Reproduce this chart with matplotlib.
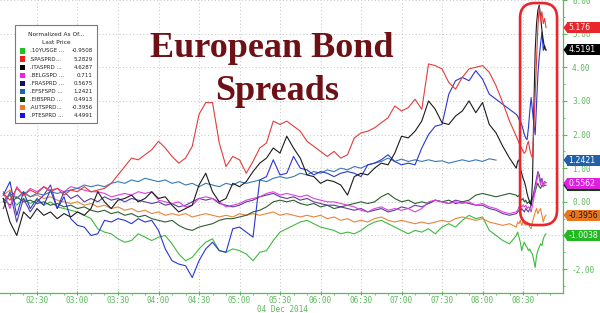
import numpy as np
import matplotlib
matplotlib.use("Agg")
import matplotlib.pyplot as plt
from matplotlib.patches import FancyBboxPatch, Rectangle, Polygon
from matplotlib.transforms import IdentityTransform

plt.rcParams['axes.unicode_minus'] = False

# ---------------- data ----------------
# minutes after midnight, 04 Dec 2014
t_main = np.arange(125, 506, 5)     # 02:05 .. 08:25 every 5 min
t_fine = np.arange(506, 528)        # 08:26 .. 08:47 every minute

spa_main = [0.25, 0.05, 0.4, 0.2, 0.35, 0.25, 0.45, 0.3, 0.4, 0.2,
            0.35, 0.3, 0.45, 0.3, 0.35, 0.4, 0.55, 0.8, 1.05, 1.3,
            1.25, 1.4, 1.55, 1.8, 1.6, 1.35, 1.15, 1.3, 1.65, 2.6,
            2.95, 2.95, 1.75, 1.05, 1.35, 1.25, 0.85, 1.2, 1.6, 1.75,
            2.4, 2.3, 2.4, 2.25, 2.1, 1.8, 1.65, 1.5, 1.35, 1.5,
            1.3, 1.4, 1.9, 2.05, 2.1, 2.2, 2.35, 2.5, 2.85, 2.7,
            2.8, 3.05, 2.75, 4.1, 4.05, 3.95, 3.55, 3.35, 3.7, 3.95,
            4.0, 4.05, 3.85, 3.45, 2.95, 2.4, 1.95]
spa_fine = [1.85, 1.75, 1.65, 1.6, 1.5, 1.45, 1.5, 1.7, 1.8, 1.55, 1.4,
            1.3, 2.2, 3.2, 4.2, 5.2, 5.8, 5.4, 5.65, 5.3, 5.45, 5.18]

ita_main = [0.1, -0.6, -1.0, -0.3, -0.5, -0.2, -0.4, -0.3, -0.5, -0.35,
            -0.45, -0.3, -0.4, -0.2, 0.3, 0.0, -0.2, 0.05, 0.1, 0.2,
            0.0, 0.1, 0.3, 0.1, 0.15, -0.1, -0.3, -0.2, -0.1, 0.5,
            0.85, 0.3, 0.0, 0.1, 0.55, 0.45, 0.6, 0.9, 1.15, 1.3,
            1.6, 1.45, 1.95, 1.6, 1.3, 0.8, 0.75, 0.55, 0.65, 0.6,
            0.5, 0.2, 0.75, 0.85, 0.8, 1.0, 1.15, 1.1, 1.45, 1.95,
            1.9, 2.1, 2.4, 3.0, 2.75, 2.35, 2.3, 2.55, 2.7, 3.0,
            2.65, 2.95, 2.3, 2.05, 1.65, 1.3, 1.0]
ita_fine = [1.2, 1.25, 1.0, 0.85, 0.7, 0.6, 0.45, 0.25, 0.1, 0.0, -0.1,
            0.6, 2.8, 4.5, 5.3, 5.7, 5.85, 5.5, 5.1, 4.8, 4.55, 4.52]

pte_main = [0.2, 0.6, -0.4, 0.3, -0.2, 0.1, -0.1, 0.35, -0.2, 0.15,
            -0.5, -0.7, -0.75, -1.0, -0.95, -0.55, -0.6, -0.5, -0.55, -0.65,
            -0.5, -0.6, -0.55, -0.85, -1.4, -1.75, -1.85, -1.9, -2.25, -1.75,
            -1.4, -1.2, -1.45, -1.5, -0.8, -0.75, -0.9, -1.05, 0.65, 0.75,
            1.25, 0.8, 0.85, 1.35, 1.0, 0.95, 0.8, 0.9, 0.85, 0.75,
            0.85, 0.9, 0.85, 0.75, 1.1, 1.15, 1.25, 1.4, 1.2, 1.1,
            1.15, 1.1, 1.6, 2.0, 2.25, 2.3, 3.2, 3.6, 3.7, 3.6,
            3.9, 3.65, 3.2, 3.05, 2.9, 2.75, 2.6]
pte_fine = [2.55, 2.45, 2.4, 2.3, 2.15, 2.0, 1.9, 1.85, 2.2, 2.7, 3.1,
            2.7, 2.3, 2.0, 2.9, 3.8, 4.3, 4.7, 5.05, 4.5, 4.65, 4.5]

efsf_main = [0.0, 0.25, 0.1, 0.3, 0.15, 0.25, 0.2, 0.3, 0.25, 0.3,
             0.35, 0.4, 0.5, 0.45, 0.5, 0.45, 0.55, 0.6, 0.55, 0.65,
             0.6, 0.7, 0.65, 0.6, 0.65, 0.55, 0.6, 0.5, 0.55, 0.45,
             0.55, 0.5, 0.45, 0.55, 0.5, 0.6, 0.55, 0.6, 0.65, 0.6,
             0.7, 0.75, 0.7, 0.75, 0.85, 0.8, 0.9, 0.85, 0.95, 0.9,
             1.0, 0.95, 1.05, 1.0, 1.1, 1.15, 1.2, 1.3, 1.2, 1.27,
             1.2, 1.25, 1.2, 1.25, 1.2, 1.22, 1.15, 1.2, 1.25, 1.2,
             1.25, 1.2, 1.28, 1.24, np.nan, np.nan, np.nan]
efsf_fine = [np.nan] * 22

bel_main = [0.3, -0.2, 0.45, 0.2, 0.4, 0.3, 0.45, 0.35, 0.4, 0.3,
            0.45, 0.4, 0.35, 0.3, 0.3, 0.25, 0.15, 0.2, 0.25, 0.2,
            0.3, 0.25, 0.3, 0.05, 0.0, -0.05, 0.0, -0.15, -0.1, 0.1,
            0.15, 0.1, 0.0, -0.15, -0.1, -0.05, 0.05, 0.1, 0.15, 0.25,
            0.3, 0.2, 0.25, 0.2, 0.15, 0.2, 0.1, 0.05, 0.0, 0.0,
            -0.05, -0.1, -0.15, -0.25, -0.3, -0.2, -0.15, -0.25, -0.2, -0.25,
            -0.2, -0.3, -0.2, 0.0, 0.05, 0.0, -0.05, 0.0, -0.05, 0.0,
            -0.1, -0.05, -0.15, -0.2, -0.3, -0.35, -0.3]
bel_fine = [-0.25, -0.15, -0.1, -0.15, -0.1, -0.15, -0.1, -0.2, -0.15, -0.2, -0.3,
            -0.1, 0.1, 0.35, 0.55, 0.85, 0.7, 0.5, 0.65, 0.45, 0.6, 0.56]

fra_main = [-0.2, 0.3, -0.6, 0.1, -0.3, 0.0, 0.2, 0.5, -0.2, 0.3,
            0.1, 0.2, 0.0, 0.1, 0.0, 0.15, 0.05, 0.1, 0.0, 0.1,
            0.05, 0.0, -0.05, 0.0, -0.1, -0.05, -0.15, -0.1, 0.0, 0.1,
            0.05, 0.1, -0.05, -0.1, -0.15, -0.1, 0.0, 0.05, 0.15, 0.2,
            0.25, 0.15, 0.1, 0.15, 0.05, 0.1, 0.0, -0.05, -0.1, -0.1,
            -0.15, -0.2, -0.25, -0.2, -0.3, -0.25, -0.2, -0.3, -0.25, -0.15,
            -0.2, -0.1, -0.15, -0.05, 0.05, 0.0, -0.05, 0.05, 0.0, -0.05,
            -0.1, -0.1, -0.2, -0.25, -0.35, -0.4, -0.35]
fra_fine = [-0.3, -0.25, -0.3, -0.2, -0.25, -0.3, -0.2, -0.25, -0.3, -0.2, -0.1,
            0.1, 0.3, 0.5, 0.7, 0.9, 0.8, 0.6, 0.7, 0.5, 0.6, 0.57]

eib_main = [0.1, -0.1, 0.15, 0.0, 0.05, -0.05, 0.0, -0.1, -0.05, -0.15,
            -0.1, -0.2, -0.15, -0.25, -0.3, -0.25, -0.35, -0.3, -0.4, -0.35,
            -0.45, -0.4, -0.5, -0.55, -0.6, -0.55, -0.7, -0.8, -0.85, -0.75,
            -0.7, -0.65, -0.55, -0.5, -0.5, -0.45, -0.4, -0.3, -0.25, -0.15,
            0.0, 0.05, 0.0, 0.05, -0.05, -0.1, -0.05, -0.15, -0.1, -0.2,
            -0.15, -0.1, -0.05, 0.0, -0.05, 0.0, 0.15, 0.25, 0.1, 0.0,
            0.05, -0.05, 0.0, -0.05, 0.05, 0.0, 0.05, -0.05, 0.0, 0.05,
            0.2, 0.25, 0.2, 0.15, 0.2, 0.25, 0.2]
eib_fine = [0.15, 0.2, 0.1, 0.05, 0.1, 0.0, 0.05, -0.05, 0.0, -0.05, 0.05,
            0.1, 0.2, 0.3, 0.45, 0.55, 0.45, 0.4, 0.5, 0.45, 0.5, 0.49]

aut_main = [0.2, 0.35, 0.1, 0.25, 0.15, 0.2, 0.1, 0.15, 0.05, 0.0,
            -0.05, 0.0, -0.1, -0.05, -0.15, -0.1, -0.2, -0.15, -0.25, -0.2,
            -0.3, -0.25, -0.35, -0.3, -0.4, -0.35, -0.4, -0.35, -0.45, -0.4,
            -0.35, -0.4, -0.45, -0.4, -0.45, -0.35, -0.4, -0.35, -0.4, -0.35,
            -0.3, -0.4, -0.35, -0.4, -0.45, -0.4, -0.45, -0.4, -0.5, -0.45,
            -0.55, -0.5, -0.6, -0.55, -0.6, -0.5, -0.45, -0.55, -0.6, -0.55,
            -0.6, -0.65, -0.6, -0.65, -0.6, -0.55, -0.6, -0.5, -0.45, -0.5,
            -0.55, -0.5, -0.6, -0.65, -0.7, -0.65, -0.75]
aut_fine = [-0.6, -0.65, -0.55, -0.7, -0.6, -0.65, -0.7, -0.6, -0.65, -0.75, -0.8,
            -0.6, -0.45, -0.3, -0.2, -0.35, -0.25, -0.2, -0.4, -0.6, -0.45, -0.4]

usg_main = [0.0, 0.2, -0.1, 0.1, -0.05, 0.05, -0.1, 0.0, -0.15, -0.2,
            -0.25, -0.3, -0.4, -0.5, -0.8, -0.9, -0.95, -1.1, -1.2, -1.15,
            -0.95, -1.05, -1.15, -1.05, -1.0, -1.25, -1.55, -1.75, -1.65, -1.4,
            -1.2, -1.1, -1.45, -1.5, -1.4, -1.45, -1.55, -1.75, -1.5, -1.45,
            -1.15, -0.9, -0.8, -0.7, -0.6, -0.55, -0.65, -0.75, -0.8, -0.85,
            -0.95, -0.9, -0.95, -0.85, -0.7, -0.6, -0.55, -0.65, -0.75, -0.85,
            -0.95, -0.85, -0.9, -0.8, -0.95, -0.75, -0.65, -0.75, -0.55, -0.4,
            -0.5, -0.45, -0.85, -1.0, -1.15, -1.25, -1.0]
usg_fine = [-0.9, -1.05, -1.2, -1.45, -1.3, -1.2, -1.3, -1.35, -1.45, -1.4, -1.5,
            -1.55, -1.75, -1.95, -1.6, -1.45, -1.35, -1.25, -1.3, -1.1, -1.0, -0.95]

# legend
leg_names = [".10YUSGE ...", ".SPASPRD...", ".ITASPRD ...", ".BELGSPD ...",
             ".FRASPRD ...", ".EFSFSPD ...", ".EIBSPRD ...", ".AUTSPRD...",
             ".PTESPRD ..."]
leg_values = ["-0.9508", "5.2829", "4.6287", "0.711", "0.5675", "1.2421",
              "0.4913", "-0.3956", "4.4991"]
leg_colors = ["#22c022", "#ee1c1c", "#000000", "#ee22ee", "#141450",
              "#1f62aa", "#0d420d", "#ea7a26", "#1414e6"]

# last-price tags on the right axis (first two are hidden under the magenta tag)
tag_values = [0.4913, 0.5175, 5.176, 4.5191, 1.2421, 0.5562, -0.3956, -1.0038]
tag_texts = ["", "", "5.176", "4.5191", "1.2421", "0.5562", "-0.3956", "-1.0038"]
tag_colors = ["#0d420d", "#141450", "#e8262b", "#000000", "#1f62aa",
              "#e020e0", "#e8761e", "#22b822"]
tag_text_colors = ["white", "white", "white", "white", "white", "white",
                   "#1a1a1a", "white"]

tick_times = [150, 180, 210, 240, 270, 300, 330, 360, 390, 420, 450, 480, 510]
tick_labels = ["02:30", "03:00", "03:30", "04:00", "04:30", "05:00", "05:30",
               "06:00", "06:30", "07:00", "07:30", "08:00", "08:30"]
y_ticks = [-2, -1, 0, 1, 2, 3, 4, 5, 6]

# highlight region (data units)
hl_t = (507.8, 535.2)
hl_v = (-0.69, 5.91)

# ---------------- figure ----------------
W, H = 600, 313
fig = plt.figure(figsize=(W / 100, H / 100), dpi=100)
fig.patch.set_facecolor("white")
ax = fig.add_axes([0.0, 20 / H, 563 / W, 293 / H])
ax.set_facecolor("white")

times = np.concatenate([t_main, t_fine])
series = [
    (usg_main, usg_fine, "#3dbb3d"),
    (aut_main, aut_fine, "#e8843c"),
    (eib_main, eib_fine, "#2e5e2e"),
    (fra_main, fra_fine, "#5a3c9e"),
    (bel_main, bel_fine, "#e040e0"),
    (efsf_main, efsf_fine, "#3a78b4"),
    (pte_main, pte_fine, "#2a36d0"),
    (ita_main, ita_fine, "#1a1a1a"),
    (spa_main, spa_fine, "#e23c3c"),
]
for m, f, c in series:
    ax.plot(times, np.concatenate([m, f]), color=c, lw=0.8, zorder=2)

ax.set_xlim(122.6, 539.6)
ax.set_ylim(-2.71, 6.0)

green = "#5cb85c"
ax.yaxis.tick_right()
ax.set_yticks(y_ticks)
ax.set_yticklabels([f"{v:.2f}" for v in y_ticks])
ax.set_xticks(tick_times)
ax.set_xticklabels(tick_labels)
ax.set_xticks(np.arange(130, 540, 10), minor=True)
ax.set_yticks(np.arange(-2.5, 6.0, 0.5), minor=True)
ax.tick_params(axis="y", which="major", colors=green, labelcolor=green,
               length=3, width=0.8, labelsize=5.6, pad=3.5)
ax.tick_params(axis="x", which="major", colors=green, labelcolor=green,
               length=2.5, width=0.8, labelsize=5.6, pad=1.0, direction="inout")
ax.tick_params(axis="both", which="minor", colors=green, length=1.5, width=0.6)
for lab in ax.get_xticklabels() + ax.get_yticklabels():
    lab.set_family("DejaVu Sans Mono")

for side in ["left", "top"]:
    ax.spines[side].set_visible(False)
for side in ["right", "bottom"]:
    ax.spines[side].set_color(green)
    ax.spines[side].set_linewidth(0.9)

ax.grid(True, which="major", color="#c4c4c4", linestyle=(0, (1, 2.5)), lw=0.7)
ax.set_axisbelow(True)

# date label
fig.text(282 / W, 1 - 309 / H, "04 Dec 2014", color=green, fontsize=5.6,
         family="DejaVu Sans Mono", ha="center", va="center")

# title
title_color = "#6d1116"
fig.text(272 / W, 1 - 57 / H, "European Bond", family="Liberation Serif",
         weight="bold", fontsize=26, color=title_color, ha="center",
         va="baseline", zorder=6)
fig.text(277 / W, 1 - 100 / H, "Spreads", family="Liberation Serif",
         weight="bold", fontsize=26, color=title_color, ha="center",
         va="baseline", zorder=6)

# legend box
def fx(x):
    return x / W

def fy(y):
    return 1 - y / H

fig.add_artist(Rectangle((fx(15), fy(123)), 82 / W, 98 / H,
                         transform=fig.transFigure, fc="white", ec="#7a7a7a",
                         lw=0.8, zorder=4))
fig.text(fx(56), fy(34.5), "Normalized As Of...", fontsize=4.2, ha="center",
         va="center", color="#222222", zorder=5)
fig.text(fx(56), fy(42.5), "Last Price", fontsize=4.2, ha="center",
         va="center", color="#222222", zorder=5)
for i, (n, v, c) in enumerate(zip(leg_names, leg_values, leg_colors)):
    yc = 51 + 8.1 * i
    fig.add_artist(Rectangle((fx(20), fy(yc + 2.6)), 5.2 / W, 5.2 / H,
                             transform=fig.transFigure, fc=c, ec="none",
                             zorder=5))
    fig.text(fx(29.5), fy(yc), n, fontsize=4.0, ha="left", va="center",
             color="#222222", zorder=5)
    fig.text(fx(92.5), fy(yc), v, fontsize=4.0, ha="right", va="center",
             color="#222222", zorder=5)

# right-side last price tags, positioned from their values via the axis scale
ident = IdentityTransform()
x_spine = ax.transAxes.transform((1.0, 0.0))[0]
for k, (v, s, c, tc) in enumerate(zip(tag_values, tag_texts, tag_colors,
                                       tag_text_colors)):
    yd = ax.transData.transform((500.0, v))[1]
    z = 8 + k * 0.1
    fig.add_artist(Polygon([(x_spine + 0.5, yd), (x_spine + 4.5, yd + 5.5),
                            (x_spine + 4.5, yd - 5.5)], closed=True,
                           transform=ident, fc=c, ec="none", zorder=z))
    fig.add_artist(Rectangle((x_spine + 4.0, yd - 5.5), 40, 11,
                             transform=ident, fc=c, ec="none", zorder=z))
    if s:
        fig.text(x_spine + 5.5, yd, s, transform=ident, fontsize=5.6,
                 color=tc, ha="left", va="center", zorder=z + 0.05)

# red highlight box around the final spike
(x0, y0) = ax.transData.transform((hl_t[0], hl_v[0]))
(x1, y1) = ax.transData.transform((hl_t[1], hl_v[1]))
fig.add_artist(FancyBboxPatch((x0, y0), x1 - x0, y1 - y0,
                              boxstyle="round,pad=0,rounding_size=15",
                              transform=ident, fill=False,
                              ec="#e8262b", lw=1.9, zorder=7))

fig.savefig("out.png", dpi=100, facecolor="white")
